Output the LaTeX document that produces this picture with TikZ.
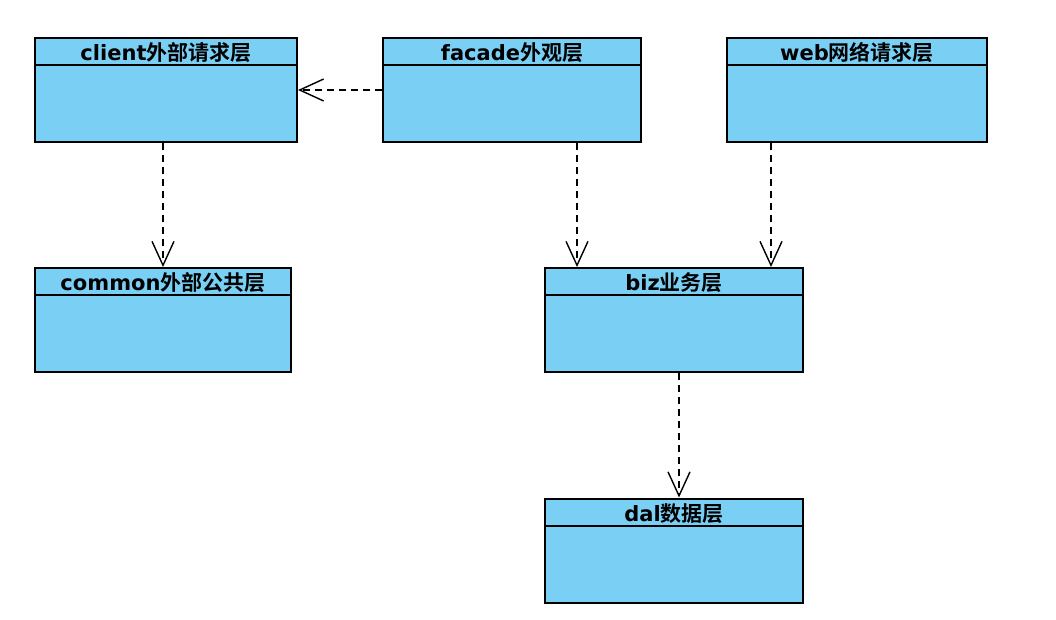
\documentclass[tikz,border=0pt]{standalone}
\usepackage{fontspec}
\usetikzlibrary{arrows.meta,calc}
\newfontfamily\latf{DejaVu Sans}[BoldFont={DejaVu Sans Bold}]
\newfontfamily\cjkf{Noto Sans CJK SC}[BoldFont={Noto Sans CJK SC Bold}]
\definecolor{boxblue}{RGB}{122,207,245}
\tikzset{
  layerbox/.style={draw=black, line width=2pt, fill=boxblue, rectangle, inner sep=0pt, minimum height=104pt},
  titletext/.style={inner sep=0pt, font=\bfseries\fontsize{21}{21}\selectfont},
  dep/.style={draw=black, line width=1.4pt, dash pattern=on 7pt off 5pt, -{Straight Barb[length=24pt,width=22pt,line width=1.4pt]}}
}
\newcommand{\layerdef}[5]{%
  \node[layerbox, minimum width=#4pt] (#1) at (#2,#3) {};
  \draw[line width=2pt] ($(#1.north west)+(0,28)$) -- ($(#1.north east)+(0,28)$);
  \node[titletext, anchor=base] (#1-title) at ($(#1.north)+(0,23.5)$) {#5};
}
\begin{document}
\begin{tikzpicture}[x=1pt,y=-1pt]
\useasboundingbox (0,0) rectangle (1056,619);
\layerdef{client}{166}{90}{262}{{\latf client}{\cjkf 外部请求层}}
\layerdef{facade}{512}{90}{258}{{\latf facade}{\cjkf 外观层}}
\layerdef{web}{857}{90}{260}{{\latf web}{\cjkf 网络请求层}}
\layerdef{common}{163}{320}{256}{{\latf common}{\cjkf 外部公共层}}
\layerdef{biz}{674}{320}{258}{{\latf biz}{\cjkf 业务层}}
\layerdef{dal}{674}{550.5}{258}{{\latf dal}{\cjkf 数据层}}
\coordinate (fb) at ($(facade.south)+(65,0)$);
\coordinate (wb) at ($(web.south)+(-86,0)$);
\coordinate (bd) at ($(biz.south)+(5,0)$);
\draw[dep] (client.south -| common.north) -- (common.north);
\draw[dep] (facade.west) -- (client.east);
\draw[dep] (fb) -- (fb |- biz.north);
\draw[dep] (wb) -- (wb |- biz.north);
\draw[dep] (bd) -- (bd |- dal.north);
\end{tikzpicture}
\end{document}
